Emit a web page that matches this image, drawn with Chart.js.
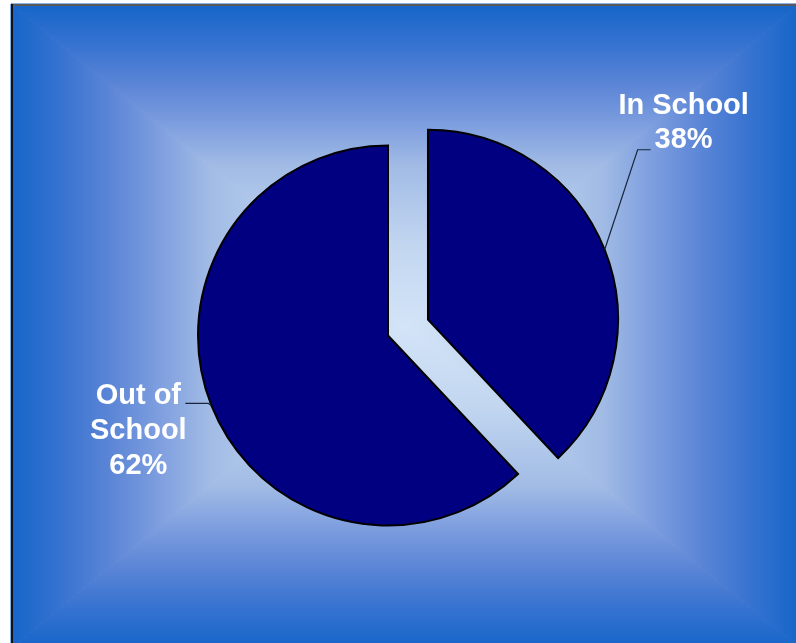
<!DOCTYPE html>
<html>
<head>
<meta charset="utf-8">
<script src="https://cdn.jsdelivr.net/npm/chart.js@4/dist/chart.umd.min.js"></script>
<style>
  html, body { margin: 0; padding: 0; background: #ffffff; }
  #wrap { width: 796px; height: 643px; }
  canvas { display: block; }
</style>
</head>
<body>
<div id="wrap"><canvas id="chart" width="796" height="643"></canvas></div>
<script>
// School attendance split
const categories = ['In School', 'Out of School'];
const labelLines = [['In School'], ['Out of', 'School']];
const shares = [38, 62];

// Callout leader layout, relative to the point on each slice's rim at its mid angle
const calloutLayout = [
  { elbow: [33, -100], end: [46, -100], textDx: 33, firstBaseline: -36 },
  { elbow: [-3, -2], end: [-26, -2], textDx: -47, firstBaseline: 1 }
];

// Rectangular "from centre" backdrop: light in the middle, blue at the edges
const backdropStops = [
  [0.00, '#d3e4f7'],
  [0.25, '#c2d6f0'],
  [0.50, '#a1bbe5'],
  [0.62, '#7f9fdf'],
  [0.75, '#5b85d6'],
  [0.88, '#3572d0'],
  [1.00, '#1565c9']
];

const backdrop = {
  id: 'backdrop',
  beforeDraw(chart) {
    const ctx = chart.ctx;
    const W = chart.width, H = chart.height;
    const L = 11, T = 4, R = 800, B = 648;
    const cx = (L + R) / 2, cy = (T + B) / 2;
    ctx.save();
    ctx.fillStyle = '#ffffff';
    ctx.fillRect(0, 0, W, H);
    const tris = [
      [[L, T], [R, T], [cx, T]],
      [[R, T], [R, B], [R, cy]],
      [[R, B], [L, B], [cx, B]],
      [[L, B], [L, T], [L, cy]]
    ];
    for (const [a, b, edge] of tris) {
      ctx.beginPath();
      ctx.moveTo(cx, cy);
      ctx.lineTo(a[0], a[1]);
      ctx.lineTo(b[0], b[1]);
      ctx.closePath();
      const g = ctx.createLinearGradient(cx, cy, edge[0], edge[1]);
      for (const [p, c] of backdropStops) g.addColorStop(p, c);
      ctx.fillStyle = g;
      ctx.fill();
      ctx.strokeStyle = g;
      ctx.lineWidth = 1;
      ctx.stroke();
    }
    // frame edges
    ctx.fillStyle = '#5a5a5a';
    ctx.fillRect(L, T, W - L, 2);
    ctx.fillStyle = '#111111';
    ctx.fillRect(L, T, 2, H - T);
    ctx.restore();
  }
};

// Keep exploded slices at the same radius and sweep as the rest of the pie
const evenRadius = {
  id: 'evenRadius',
  afterDatasetUpdate(chart, args) {
    for (const el of args.meta.data) {
      const off = (el.options.offset || 0) / 4;
      if (!off) continue;
      const fix = 1 - Math.sin(Math.min(Math.PI, el.circumference || 0));
      const grow = off * fix;
      const R = el.outerRadius;
      el.outerRadius = R - grow;
      const trim = (grow / Math.PI) / R / 2;
      el.startAngle -= trim;
      el.endAngle += trim;
    }
  }
};

const callouts = {
  id: 'callouts',
  afterDatasetsDraw(chart) {
    const ctx = chart.ctx;
    const meta = chart.getDatasetMeta(0);
    const total = shares.reduce((a, b) => a + b, 0);
    ctx.save();
    meta.data.forEach((el, i) => {
      const off = (el.options.offset || 0) / 4;
      const mid = (el.startAngle + el.endAngle) / 2;
      const fix = 1 - Math.sin(Math.min(Math.PI, el.circumference || 0));
      const r = el.outerRadius + off * fix;
      const cx = el.x + Math.cos(mid) * off;
      const cy = el.y + Math.sin(mid) * off;
      const px = cx + Math.cos(mid) * r;
      const py = cy + Math.sin(mid) * r;
      const lay = calloutLayout[i];
      const ex = px + lay.end[0], ey = py + lay.end[1];
      ctx.beginPath();
      ctx.moveTo(px, py);
      ctx.lineTo(px + lay.elbow[0], py + lay.elbow[1]);
      ctx.lineTo(ex, ey);
      ctx.strokeStyle = '#17263a';
      ctx.lineWidth = 1.2;
      ctx.stroke();

      const pct = Math.round(shares[i] / total * 100) + '%';
      const lines = labelLines[i].concat([pct]);
      ctx.fillStyle = '#ffffff';
      ctx.font = 'bold 29px "Liberation Sans", Arial, sans-serif';
      ctx.textAlign = 'center';
      ctx.textBaseline = 'alphabetic';
      lines.forEach((t, k) => {
        ctx.fillText(t, ex + lay.textDx, ey + lay.firstBaseline + k * 34.6);
      });
    });
    ctx.restore();
  }
};

new Chart(document.getElementById('chart'), {
  type: 'pie',
  data: {
    labels: categories,
    datasets: [{
      data: shares,
      backgroundColor: '#000080',
      borderColor: '#000000',
      borderWidth: 2,
      borderJoinStyle: 'miter',
      offset: [172, 0],
      hoverOffset: 0
    }]
  },
  options: {
    responsive: false,
    animation: false,
    radius: 190,
    rotation: 0,
    layout: { padding: { left: 0, right: 20, top: 28, bottom: 0 } },
    events: [],
    plugins: {
      legend: { display: false },
      tooltip: { enabled: false }
    }
  },
  plugins: [backdrop, evenRadius, callouts]
});
</script>
</body>
</html>
